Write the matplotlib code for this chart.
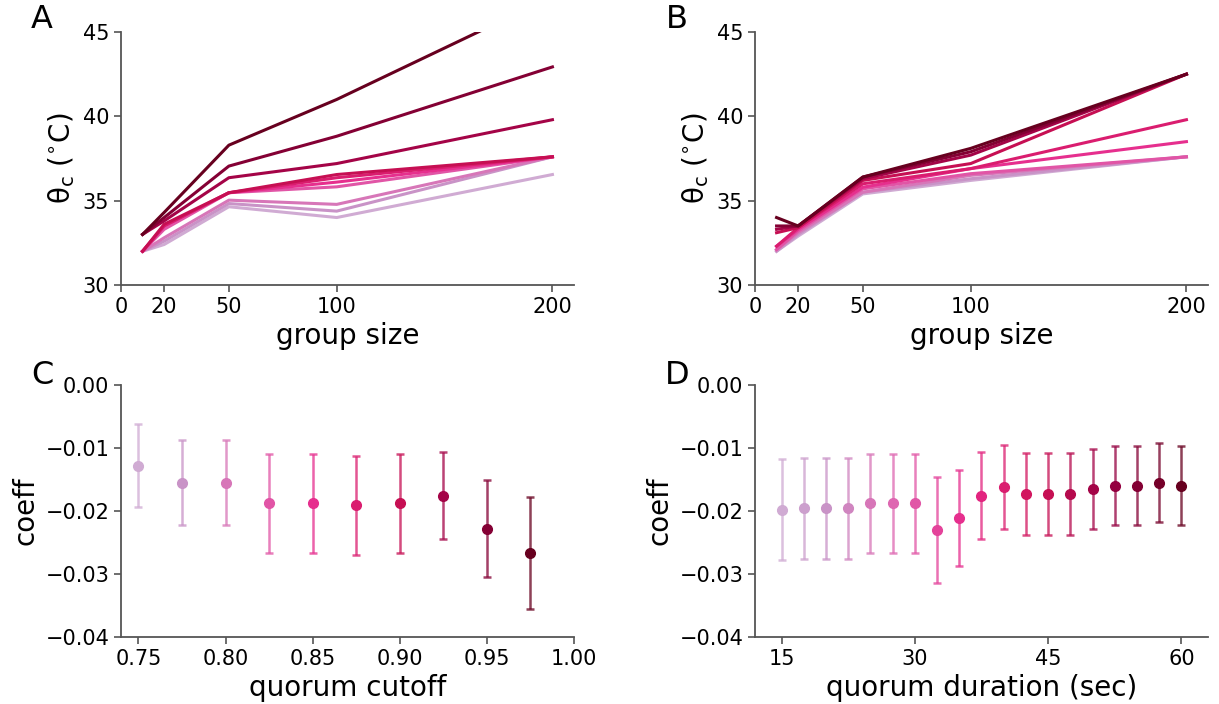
import matplotlib
matplotlib.use("Agg")
import matplotlib.pyplot as plt
import numpy as np

# group sizes for panels A and B
group_sizes = [10, 20, 50, 100, 200]

# panel A: theta_c per quorum cutoff (light -> dark)
theta_a = [
    [32.0, 32.4, 34.64, 34.0, 36.55],
    [32.0, 32.6, 34.83, 34.38, 37.6],
    [32.0, 32.8, 35.03, 34.78, 37.6],
    [32.0, 33.3, 35.47, 35.82, 37.6],
    [32.0, 33.5, 35.47, 36.1, 37.6],
    [32.0, 33.5, 35.47, 36.36, 37.6],
    [32.0, 33.6, 35.47, 36.55, 37.6],
    [33.0, 33.8, 36.36, 37.2, 39.8],
    [33.0, 34.0, 37.05, 38.82, 42.93],
    [33.0, 34.3, 38.29, 41.0, 47.1],
]

# panel B: theta_c per quorum duration (light -> dark)
theta_b = [
    [32.0, 32.9, 35.4, 36.2, 37.6],
    [32.0, 33.0, 35.5, 36.3, 37.6],
    [32.1, 33.1, 35.5, 36.5, 37.6],
    [32.1, 33.2, 35.7, 36.6, 37.6],
    [32.3, 33.3, 35.8, 36.9, 38.5],
    [32.3, 33.4, 36.0, 36.9, 39.8],
    [33.1, 33.4, 36.2, 37.2, 42.5],
    [33.3, 33.5, 36.3, 37.7, 42.5],
    [33.5, 33.5, 36.4, 37.9, 42.5],
    [34.0, 33.5, 36.4, 38.1, 42.5],
]

# panel C: coefficient vs quorum cutoff
cutoff = [0.75, 0.775, 0.80, 0.825, 0.85, 0.875, 0.90, 0.925, 0.95, 0.975]
coef_c = [-0.0128, -0.0155, -0.0155, -0.0188, -0.0188, -0.0191, -0.0188, -0.0176, -0.0228, -0.0267]
err_c = [0.0066, 0.0068, 0.0068, 0.0079, 0.0079, 0.0079, 0.0078, 0.0069, 0.0077, 0.0089]

# panel D: coefficient vs quorum duration
duration = [15, 17.5, 20, 22.5, 25, 27.5, 30, 32.5, 35, 37.5, 40, 42.5, 45, 47.5, 50, 52.5, 55, 57.5, 60]
coef_d = [-0.0198, -0.0196, -0.0196, -0.0196, -0.0188, -0.0188, -0.0188, -0.0230, -0.0211, -0.0176,
          -0.0162, -0.0173, -0.0173, -0.0173, -0.0165, -0.0160, -0.0160, -0.0155, -0.0160]
err_d = [0.0080, 0.0080, 0.0080, 0.0080, 0.0078, 0.0078, 0.0078, 0.0084, 0.0076, 0.0069,
         0.0066, 0.0065, 0.0065, 0.0065, 0.0064, 0.0063, 0.0063, 0.0063, 0.0063]

cmap = plt.get_cmap("PuRd")
spine_col = "#555555"
tick_fs = 15
label_fs = 20
W, H = 1219, 704

fig = plt.figure(figsize=(W / 100, H / 100), dpi=100)


def add_ax(left, top, right, bottom):
    return fig.add_axes([left / W, 1 - bottom / H, (right - left) / W, (bottom - top) / H])


def style(ax):
    for s in ["top", "right"]:
        ax.spines[s].set_visible(False)
    for s in ["left", "bottom"]:
        ax.spines[s].set_color(spine_col)
        ax.spines[s].set_linewidth(1.3)
    ax.tick_params(labelsize=tick_fs, color=spine_col, length=5, width=1.2)


ax_a = add_ax(121, 32, 574, 285)
ax_b = add_ax(755, 32, 1208, 285)
ax_c = add_ax(121, 385, 574, 637)
ax_d = add_ax(755, 385, 1208, 637)

# line panels
for ax, data in [(ax_a, theta_a), (ax_b, theta_b)]:
    cols = cmap(np.linspace(0.3, 1.0, len(data)))
    for row, c in zip(data, cols):
        ax.plot(group_sizes, row, color=c, lw=2.2)
    ax.set_xlim(0, 210)
    ax.set_ylim(30, 45)
    ax.set_xticks([0, 20, 50, 100, 200])
    ax.set_yticks([30, 35, 40, 45])
    ax.set_xlabel("group size", fontsize=label_fs)
    ax.set_ylabel("\u03b8$_\\mathrm{c}$ ($^{\\circ}$C)", fontsize=label_fs)
    style(ax)

# errorbar panels
for ax, xs, ys, es in [(ax_c, cutoff, coef_c, err_c), (ax_d, duration, coef_d, err_d)]:
    cols = cmap(np.linspace(0.3, 1.0, len(xs)))
    for x, y, e, c in zip(xs, ys, es, cols):
        ecol = (c[0], c[1], c[2], 0.75)
        ax.errorbar(x, y, yerr=e, fmt="o", color=c, ecolor=ecol, ms=7,
                    elinewidth=1.8, capsize=3, capthick=1.8)
    ax.set_ylim(-0.04, 0.0)
    ax.set_yticks([-0.04, -0.03, -0.02, -0.01, 0.0])
    ax.set_yticklabels(["\u22120.04", "\u22120.03", "\u22120.02", "\u22120.01", "0.00"])
    ax.set_ylabel("coeff", fontsize=label_fs)
    style(ax)

ax_c.set_xlim(0.74, 1.0)
ax_c.set_xticks([0.75, 0.80, 0.85, 0.90, 0.95, 1.00])
ax_c.set_xticklabels(["0.75", "0.80", "0.85", "0.90", "0.95", "1.00"])
ax_c.set_xlabel("quorum cutoff", fontsize=label_fs)

ax_d.set_xlim(12, 63)
ax_d.set_xticks([15, 30, 45, 60])
ax_d.set_xlabel("quorum duration (sec)", fontsize=label_fs)

# panel letters
for lbl, x, y in [("A", 42, 20), ("B", 677, 20), ("C", 42, 375), ("D", 677, 375)]:
    fig.text(x / W, 1 - y / H, lbl, fontsize=23, ha="center", va="center")

fig.savefig("out.png", dpi=100)
